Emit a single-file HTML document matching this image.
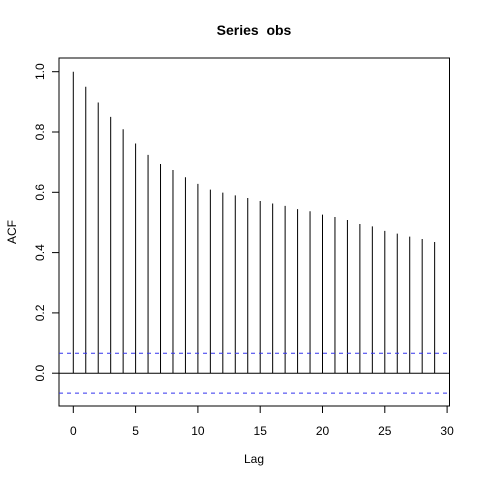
<!DOCTYPE html>
<html><head><meta charset="utf-8"><style>
html,body{margin:0;padding:0;background:#fff;}
svg text{font-family:"Liberation Sans",Arial,sans-serif;fill:#000;}
</style></head><body>
<svg id="chart" width="480" height="480" viewBox="0 0 480 480" xmlns="http://www.w3.org/2000/svg">
<rect width="480" height="480" fill="#fff"/>
<text x="254" y="35" text-anchor="middle" font-size="14" font-weight="bold" style="white-space:pre">Series  obs</text>
<text x="254" y="463" text-anchor="middle" font-size="12">Lag</text>
<text x="16" y="232" text-anchor="middle" font-size="12" transform="rotate(-90 16 232)">ACF</text>
<rect x="59" y="58" width="390.5" height="348" fill="none" stroke="#000" stroke-width="1"/>
<g id="marks"></g>
</svg>
<script>
const lags = [0,1,2,3,4,5,6,7,8,9,10,11,12,13,14,15,16,17,18,19,20,21,22,23,24,25,26,27,28,29];
const acfValues = [1.0,0.950,0.898,0.850,0.809,0.762,0.724,0.694,0.674,0.650,0.628,0.609,0.599,0.590,0.581,0.571,0.563,0.555,0.544,0.537,0.526,0.518,0.508,0.495,0.487,0.472,0.463,0.453,0.445,0.435];
const ciBound = 0.066;
const xTicks = [0,5,10,15,20,25,30];
const yTicks = [0.0,0.2,0.4,0.6,0.8,1.0];
const yTickLabels = ["0.0","0.2","0.4","0.6","0.8","1.0"];

const NS = "http://www.w3.org/2000/svg";
const g = document.getElementById('marks');
function xs(v){ return 73.3 + v*12.46; }
function ys(v){ return 373.2 - v*301.5; }
function mk(tag, attrs){ const e=document.createElementNS(NS,tag); for(const k in attrs) e.setAttribute(k,attrs[k]); g.appendChild(e); return e; }

lags.forEach((l,i)=>{
  const e = mk('line',{x1:xs(l),x2:xs(l),y1:ys(0),y2:ys(acfValues[i]),stroke:'#000','stroke-width':1});
  
  
});
const z = mk('line',{x1:59,x2:449.5,y1:ys(0),y2:ys(0),stroke:'#000','stroke-width':1});


[ciBound,-ciBound].forEach((c,i)=>{
  const e = mk('line',{x1:59,x2:449.5,y1:ys(c),y2:ys(c),stroke:'#3333ee','stroke-width':1,'stroke-dasharray':'4,4'});
  
  
});
xTicks.forEach(t=>{
  const e = mk('line',{x1:xs(t),x2:xs(t),y1:406,y2:413,stroke:'#000'});
  
  
  const tx = mk('text',{x:xs(t),y:435,'text-anchor':'middle','font-size':12});
  tx.textContent = t;
  
  
});
yTicks.forEach((t,i)=>{
  const e = mk('line',{x1:52,x2:59,y1:ys(t),y2:ys(t),stroke:'#000'});
  
  
  const yy = ys(t);
  const tx = mk('text',{x:44,y:yy,'text-anchor':'middle','font-size':12,transform:'rotate(-90 44 '+yy+')'});
  tx.textContent = yTickLabels[i];
  
  
});
</script>
</body></html>
